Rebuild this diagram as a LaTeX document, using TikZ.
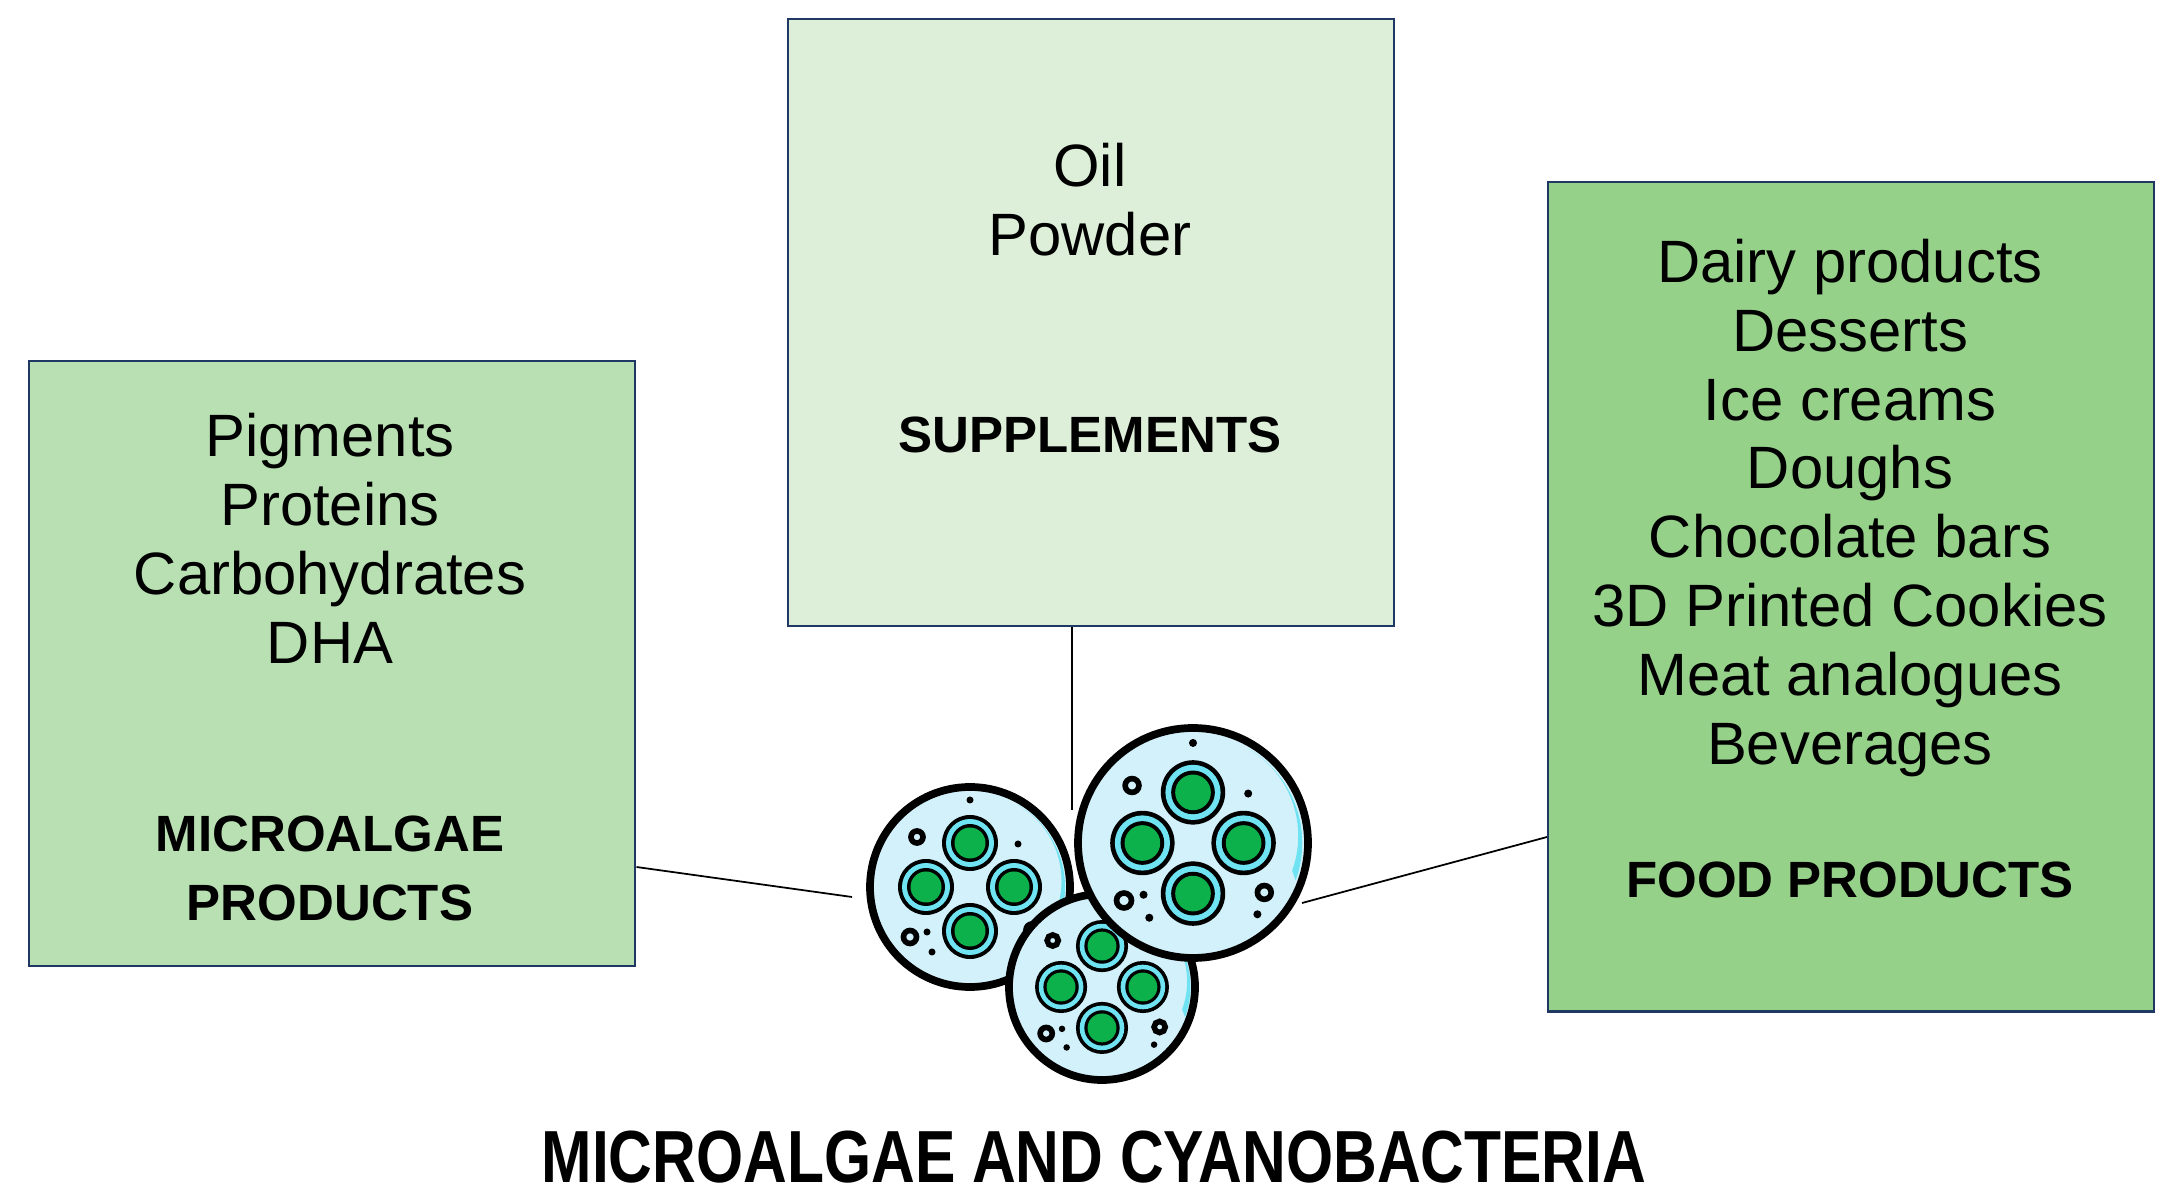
\documentclass[tikz,border=0pt]{standalone}
\usepackage{fontspec}
\setmainfont{Liberation Sans}
\begin{document}
\definecolor{bl}{HTML}{B9E0B3}
\definecolor{bm}{HTML}{DDEFD9}
\definecolor{br}{HTML}{96D18A}
\definecolor{bd}{HTML}{1F3864}
\definecolor{cellbg}{HTML}{D3F1FA}
\definecolor{cy}{HTML}{6FE3F2}
\definecolor{gr}{HTML}{0DB14B}
\begin{tikzpicture}[x=0.01cm,y=-0.01cm,
  box/.style={draw=bd,line width=0.6pt,minimum width=6.06cm,inner sep=0},
  txt/.style={align=center,font=\fontsize{17}{19.6}\selectfont},
  bt/.style={align=center,font=\fontsize{14.5}{19.6}\selectfont\bfseries},
  ln/.style={draw=black,line width=0.5pt},
  cell/.pic={
    \fill[cellbg] (0,0) circle (100);
    \fill[cy] (0,0) ++(20:95) arc (20:-60:95) -- ++(0,0) arc(-60:20:88) -- cycle;
    \draw[line width=2.2pt] (0,0) circle (100);
    \foreach \a in {90,0,180,270}{
      \fill[black] (\a:44) circle (28);
      \fill[cy] (\a:44) circle (24);
      \fill[black] (\a:44) circle (19);
      \fill[gr] (\a:44) circle (15.5);
    }
    \fill (0,-87) circle (3.5);
    \fill (48,-43) circle (3.5);
    \draw[line width=1.6pt] (-53,-50) circle (6);
    \draw[line width=1.6pt] (-60,50) circle (6.5);
    \draw[line width=1.6pt] (62,43) circle (6);
    \fill (-43,45) circle (3.5); \fill (-38,65) circle (3.5); \fill (56,62) circle (3.5);
  }]
\useasboundingbox (0,0) rectangle (2172,1201);
\node[box,fill=bl,minimum height=6.05cm,anchor=north west] (L) at (28,360) {};
\node[box,fill=bm,minimum height=6.07cm,anchor=north west] (M) at (787,18) {};
\node[box,fill=br,minimum height=8.29cm,anchor=north west] (R) at (1547,181) {};
\coordinate (mt) at (1072,810);
\coordinate (lt) at (852,897);
\coordinate (rt) at (1302,903);
\draw[ln] (M.south -| mt) -- (mt);
\draw[ln] (L.east |- 0,867) -- (lt);
\draw[ln] (R.west |- 0,837) -- (rt);
\pic at (970,887) {cell={scale=1.18}};
\pic[scale=0.93] at (1102,987) {cell};
\pic[scale=1.15] at (1193,843) {cell};
\node[txt] (lt1) at (330,538) {Pigments\\Proteins\\Carbohydrates\\DHA};
\node[bt] (lb) at (330,868) {MICROALGAE\\PRODUCTS};
\node[txt] (mt1) at (1090,200) {Oil\\Powder};
\node[bt] (mb) at (1090,435) {SUPPLEMENTS};
\node[txt] (rt1) at (1850,508) {Dairy products\\Desserts\\Ice creams\\Doughs\\Chocolate bars\\3D Printed Cookies\\Meat analogues\\Beverages};
\node[bt] (rb) at (1850,880) {FOOD PRODUCTS};
\node[font=\fontsize{21}{24}\selectfont\bfseries,xscale=0.82] (title) at (1094,1157) {MICROALGAE AND CYANOBACTERIA};
\end{tikzpicture}
\end{document}
